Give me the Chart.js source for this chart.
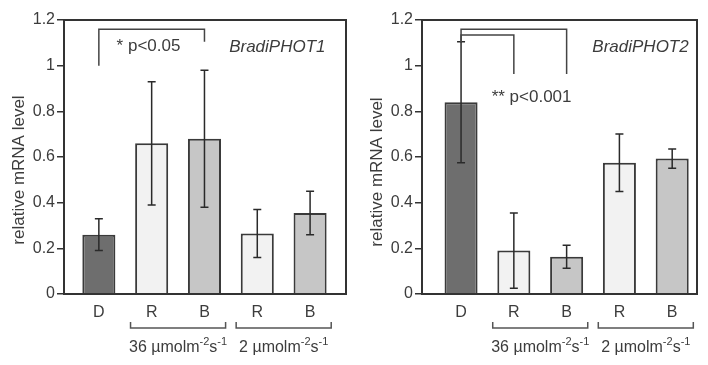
<!DOCTYPE html>
<html>
<head>
<meta charset="utf-8">
<script src="https://cdn.jsdelivr.net/npm/chart.js@4.4.0/dist/chart.umd.min.js"></script>
<style>
  html, body { margin: 0; padding: 0; background: #fff; }
  #wrap { position: relative; width: 708px; height: 365px; }
  canvas { position: absolute; top: 0; }
</style>
</head>
<body>
<div id="wrap">
  <canvas id="phot1" width="354" height="365" style="left:0"></canvas>
  <canvas id="phot2" width="354" height="365" style="left:354px"></canvas>
</div>
<script>
// data
const categories = ['D', 'R', 'B', 'R', 'B'];
const yTickValues = [0, 0.2, 0.4, 0.6, 0.8, 1, 1.2];
const yTickLabels = ['0', '0.2', '0.4', '0.6', '0.8', '1', '1.2'];

const phot1Mean = [0.26, 0.66, 0.68, 0.265, 0.355];
const phot1Err  = [0.07, 0.27, 0.30, 0.105, 0.095];
const phot2Mean = [0.84, 0.19, 0.163, 0.575, 0.593];
const phot2Err  = [0.265, 0.165, 0.05, 0.126, 0.042];

// light groups under the x axis: [first category, last category, irradiance]
const lightGroups = [[1, 2, '36'], [3, 4, '2']];

// significance brackets (category from/to, y of bar, y where each leg ends)
const phot1Sig = [{ from: 0, to: 2, y: 1.16, fromEnd: 1.0, toEnd: 1.105 }];
const phot2Sig = [
  { from: 0, to: 2, y: 1.16, fromEnd: 1.103, toEnd: 0.964 },
  { from: 0, to: 1, y: 1.134, fromEnd: 1.103, toEnd: 0.964 }
];
const phot1Notes = [
  { text: '* p<0.05', x: 0.94, y: 1.083, italic: false },
  { text: 'BradiPHOT1', x: 3.38, y: 1.082, italic: true }
];
const phot2Notes = [
  { text: '** p<0.001', x: 1.336, y: 0.863, italic: false },
  { text: 'BradiPHOT2', x: 3.40, y: 1.082, italic: true }
];

const barColors = ['#6e6e6e', '#f2f2f2', '#c6c6c6', '#f2f2f2', '#c6c6c6'];
const ink = '#333333';
const textInk = '#3c3c3c';
const family = "'Liberation Sans', Arial, sans-serif";

function drawSuper(ctx, parts, cx, cy) {
  // parts: [text, isSuperscript]
  let w = 0;
  parts.forEach(p => {
    ctx.font = (p[1] ? '11px ' : '16px ') + family;
    w += ctx.measureText(p[0]).width;
  });
  let x = cx - w / 2;
  ctx.textAlign = 'left';
  ctx.textBaseline = 'alphabetic';
  parts.forEach(p => {
    ctx.font = (p[1] ? '11px ' : '16px ') + family;
    ctx.fillText(p[0], x, p[1] ? cy - 1 : cy + 6);
    x += ctx.measureText(p[0]).width;
  });
}

const extras = {
  id: 'extras',
  afterDatasetsDraw(chart, args, o) {
    const ctx = chart.ctx, xs = chart.scales.x, ys = chart.scales.y, a = chart.chartArea;
    ctx.save();
    ctx.strokeStyle = ink;
    ctx.lineWidth = 2;
    ctx.strokeRect(a.left, a.top, a.right - a.left, a.bottom - a.top);

    // error bars
    ctx.strokeStyle = '#2a2a2a';
    ctx.lineWidth = 1.5;
    o.mean.forEach((m, i) => {
      const x = xs.getPixelForValue(i);
      const y1 = ys.getPixelForValue(m + o.err[i]);
      const y2 = ys.getPixelForValue(m - o.err[i]);
      ctx.beginPath();
      ctx.moveTo(x, y1); ctx.lineTo(x, y2);
      ctx.moveTo(x - 4, y1); ctx.lineTo(x + 4, y1);
      ctx.moveTo(x - 4, y2); ctx.lineTo(x + 4, y2);
      ctx.stroke();
    });

    // significance brackets
    ctx.strokeStyle = '#444';
    ctx.lineWidth = 1.5;
    o.sig.forEach(s => {
      const x1 = xs.getPixelForValue(s.from), x2 = xs.getPixelForValue(s.to);
      const y = ys.getPixelForValue(s.y);
      ctx.beginPath();
      ctx.moveTo(x1, ys.getPixelForValue(s.fromEnd));
      ctx.lineTo(x1, y);
      ctx.lineTo(x2, y);
      ctx.lineTo(x2, ys.getPixelForValue(s.toEnd));
      ctx.stroke();
    });

    // text notes
    ctx.fillStyle = textInk;
    ctx.textAlign = 'center';
    ctx.textBaseline = 'middle';
    o.notes.forEach(n => {
      ctx.font = (n.italic ? 'italic ' : '') + '17px ' + family;
      ctx.fillText(n.text, xs.getPixelForValue(n.x), ys.getPixelForValue(n.y));
    });
    ctx.restore();
  },
  afterDraw(chart, args, o) {
    const ctx = chart.ctx, xs = chart.scales.x, a = chart.chartArea;
    ctx.save();
    // light group brackets below the axis
    ctx.strokeStyle = '#555';
    ctx.lineWidth = 1.5;
    ctx.fillStyle = textInk;
    lightGroups.forEach(g => {
      const x1 = xs.getPixelForValue(g[0] - 0.4), x2 = xs.getPixelForValue(g[1] + 0.4);
      const y = a.bottom + 34;
      ctx.beginPath();
      ctx.moveTo(x1, y - 6); ctx.lineTo(x1, y); ctx.lineTo(x2, y); ctx.lineTo(x2, y - 6);
      ctx.stroke();
      drawSuper(ctx, [[g[2] + ' \u00b5molm', false], ['-2', true], ['s', false], ['-1', true]],
        (x1 + x2) / 2, a.bottom + 52);
    });
    // y axis title
    ctx.translate(o.titleX, o.titleY);
    ctx.rotate(-Math.PI / 2);
    ctx.font = '17px ' + family;
    ctx.textAlign = 'center';
    ctx.textBaseline = 'middle';
    ctx.fillText('relative mRNA level', 0, 0);
    ctx.restore();
  }
};

function makeChart(id, mean, err, sig, notes, xMin, xMax, axisWidth, padRight, titleX, titleY) {
  return new Chart(document.getElementById(id), {
    type: 'bar',
    data: {
      datasets: [{
        data: mean.map((v, i) => ({ x: i, y: v })),
        backgroundColor: barColors,
        borderColor: '#3a3a3a',
        borderWidth: 2,
        borderSkipped: 'start',
        categoryPercentage: 0.626,
        barPercentage: 1
      }]
    },
    options: {
      responsive: false,
      animation: false,
      layout: { padding: { top: 20, right: padRight, left: 0, bottom: 0 } },
      plugins: {
        legend: { display: false },
        tooltip: { enabled: false },
        extras: { mean: mean, err: err, sig: sig, notes: notes, titleX: titleX, titleY: titleY }
      },
      scales: {
        x: {
          type: 'linear',
          offset: false,
          min: xMin,
          max: xMax,
          afterBuildTicks: s => { s.ticks = categories.map((c, i) => ({ value: i })); },
          afterFit: s => { s.height = 71; },
          grid: { display: false, drawTicks: false, offset: false },
          border: { display: true, color: ink, width: 2 },
          ticks: {
            callback: (v) => categories[v],
            font: { family: family, size: 16 },
            color: textInk,
            padding: 9,
            maxRotation: 0
          }
        },
        y: {
          min: 0,
          max: 1.2,
          afterBuildTicks: s => { s.ticks = yTickValues.map(v => ({ value: v })); },
          afterFit: s => { s.width = axisWidth; },
          grid: { drawOnChartArea: false, drawTicks: true, tickLength: 7, color: ink, lineWidth: 1.5 },
          border: { display: true, color: ink, width: 2 },
          ticks: {
            callback: (v, i) => yTickLabels[i],
            font: { family: family, size: 16 },
            color: textInk,
            padding: 2
          }
        }
      }
    },
    plugins: [extras]
  });
}

makeChart('phot1', phot1Mean, phot1Err, phot1Sig, phot1Notes, -0.66, 4.68, 64, 8, 19, 170);
makeChart('phot2', phot2Mean, phot2Err, phot2Sig, phot2Notes, -0.74, 4.47, 68, 11, 23, 172);
</script>
</body>
</html>
